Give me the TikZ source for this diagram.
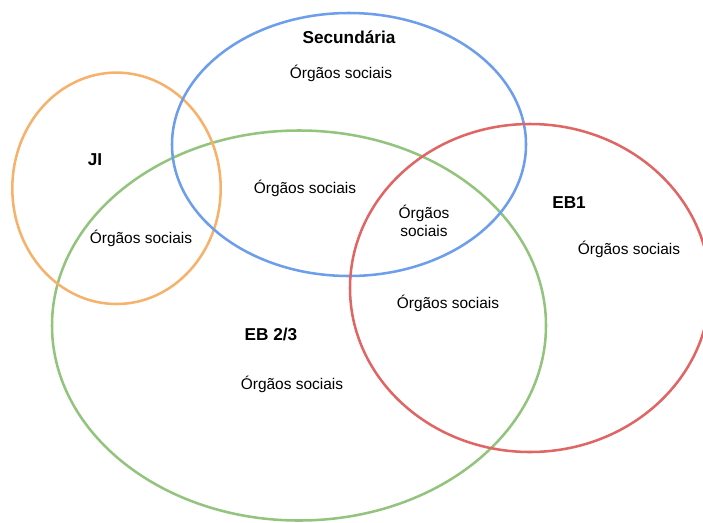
\documentclass[tikz,border=0pt]{standalone}
\usepackage{fontspec}
\setmainfont{Liberation Sans}
\definecolor{cOrange}{HTML}{F6B26B}
\definecolor{cBlue}{HTML}{6D9EEB}
\definecolor{cGreen}{HTML}{93C47D}
\definecolor{cRed}{HTML}{E06666}
\begin{document}
\begin{tikzpicture}[x=0.75pt,y=-0.75pt,
  ring/.style={line width=1.9pt},
  title/.style={font=\fontsize{12.9}{15}\selectfont\bfseries, inner sep=0pt},
  lbl/.style={font=\fontsize{11.6}{13.5}\selectfont, inner sep=0pt, align=center}]
\useasboundingbox (0,0) rectangle (703,522);
\clip (0,0) rectangle (703,522);
\draw[ring,cGreen] (299,325.5) ellipse [x radius=247, y radius=195];
\draw[ring,cOrange] (116.5,188.3) ellipse [x radius=104.2, y radius=115.7];
\draw[ring,cBlue] (349,144.5) ellipse [x radius=177, y radius=131.5];
\draw[ring,cRed] (530,288) ellipse [x radius=180, y radius=164];
\node[title] (sec) at (349,37) {Secundária};
\node[lbl] (secO) at (341,73) {Órgãos sociais};
\node[title] (ji) at (95,160) {JI};
\node[lbl] (jiO) at (141,238) {Órgãos sociais};
\node[lbl] (secEB) at (305,188) {Órgãos sociais};
\node[lbl] (secEB1) at (424,220.5) {Órgãos\\sociais};
\node[title] (eb1) at (569,203) {EB1};
\node[lbl] (eb1O) at (629,249) {Órgãos sociais};
\node[lbl] (ebEB1) at (448,303) {Órgãos sociais};
\node[title] (eb23) at (271,334) {EB 2/3};
\node[lbl] (eb23O) at (292,384) {Órgãos sociais};
\end{tikzpicture}
\end{document}
